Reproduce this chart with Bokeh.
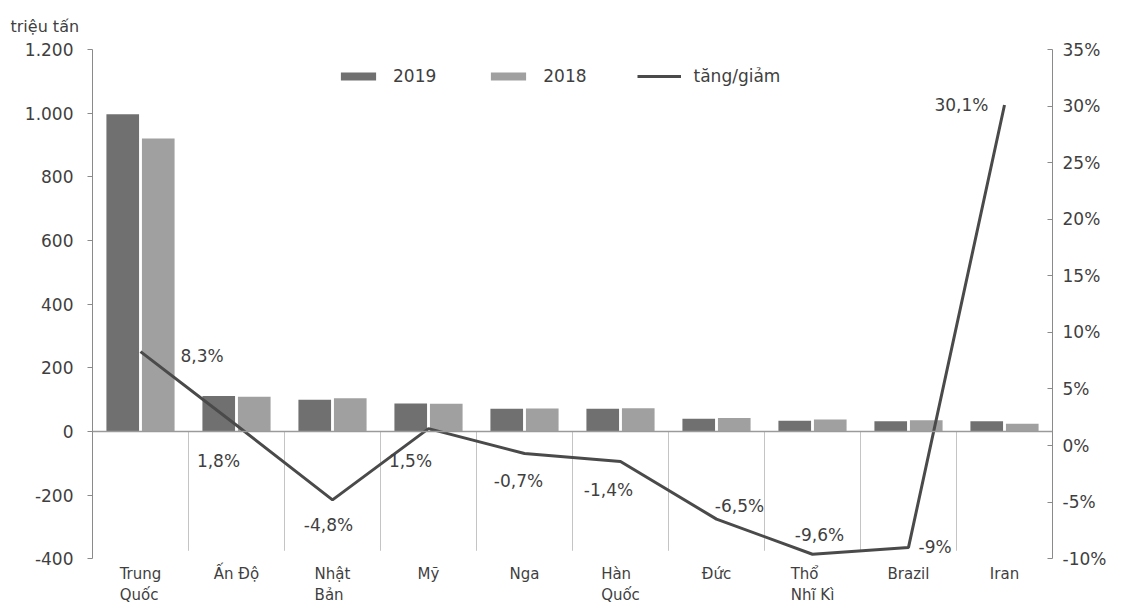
from bokeh.plotting import figure
from bokeh.models import (Range1d, LinearAxis, FixedTicker, Span, LabelSet,
                          ColumnDataSource, Legend, LegendItem)
from bokeh.core.properties import value
from bokeh.transform import dodge
from bokeh.embed import file_html
from bokeh.resources import INLINE

# ---- data ----
countries = ["Trung\nQuốc", "Ấn Độ", "Nhật\nBản", "Mỹ", "Nga", "Hàn\nQuốc",
             "Đức", "Thổ\nNhĩ Kì", "Brazil", "Iran"]
prod_2019 = [996.3, 111.2, 99.3, 87.9, 71.6, 71.4, 39.7, 33.7, 32.2, 31.9]
prod_2018 = [920.0, 109.3, 104.3, 86.6, 72.1, 72.5, 42.4, 37.3, 35.4, 24.5]
change_pct = [8.3, 1.8, -4.8, 1.5, -0.7, -1.4, -6.5, -9.6, -9.0, 30.1]
change_labels = ["8,3%", "1,8%", "-4,8%", "1,5%", "-0,7%", "-1,4%",
                 "-6,5%", "-9,6%", "-9%", "30,1%"]
left_ticks = [-400, -200, 0, 200, 400, 600, 800, 1000, 1200]
left_tick_labels = ["-400", "-200", "0", "200", "400", "600", "800", "1.000", "1.200"]
right_ticks = [-10, -5, 0, 5, 10, 15, 20, 25, 30, 35]
unit_label = "triệu tấn"

# label placement (style, px)
lab_dx = [40, -18, -4, -18, -6, -12, 23, 7, 10, -16]
lab_dy = [-4, -36, -25, -32, -27, -29, 13, 19, 0, 0]
lab_align = ["left", "center", "center", "center", "center", "center",
             "center", "center", "left", "right"]

FONT = "DejaVu Sans"
TXT = "#3f3f3f"
FS = "17px"

# layout: axis part of frame is 512 px tall, extra px below for category labels
W, H = 1109, 604
TOP, LEFT, RIGHT = 46, 92, 57
AXIS_PX = 512
EXTRA_PX = H - TOP - AXIS_PX
L_LO, L_HI = left_ticks[0], left_ticks[-1]
R_LO, R_HI = right_ticks[0], right_ticks[-1]
l_pad = (L_HI - L_LO) * EXTRA_PX / AXIS_PX
r_pad = (R_HI - R_LO) * EXTRA_PX / AXIS_PX

xs = [i + 0.5 for i in range(len(countries))]
src = ColumnDataSource(dict(x=xs, y19=prod_2019, y18=prod_2018, pct=change_pct,
                            lab=change_labels, dx=lab_dx, dy=lab_dy, al=lab_align,
                            cat=countries, base=[L_LO] * len(countries)))

p = figure(width=W, height=H, output_backend="svg", toolbar_location=None,
           x_range=Range1d(0, len(countries)), y_range=Range1d(L_LO - l_pad, L_HI),
           min_border_left=LEFT, min_border_right=RIGHT, min_border_top=TOP,
           min_border_bottom=0)
p.outline_line_color = None
p.xgrid.visible = False
p.ygrid.visible = False
p.xaxis.visible = False
p.background_fill_color = "white"
p.border_fill_color = "white"

p.title.text = unit_label
p.title.align = "left"
p.title.offset = -82
p.title.standoff = 28
p.title.text_font = FONT
p.title.text_font_size = "16px"
p.title.text_font_style = "normal"
p.title.text_color = TXT

p.extra_y_ranges = {"pct": Range1d(R_LO - r_pad, R_HI)}

# zero line and separators
p.add_layout(Span(location=0, dimension="width", line_color="#9a9a9a", line_width=1.5))
p.segment(x0=list(range(1, len(countries))), y0=0, x1=list(range(1, len(countries))),
          y1=-375, line_color="#c4c4c4", line_width=1)

b19 = p.vbar(x=dodge("x", -0.185, range=p.x_range), top="y19", bottom=0, width=0.34,
             source=src, fill_color="#707070", line_color=None)
b18 = p.vbar(x=dodge("x", 0.185, range=p.x_range), top="y18", bottom=0, width=0.34,
             source=src, fill_color="#a0a0a0", line_color=None)
ln = p.line(x="x", y="pct", source=src, y_range_name="pct", line_color="#4a4a4a",
            line_width=3)

labels = LabelSet(x="x", y="pct", text="lab", source=src, y_range_name="pct",
                  x_offset="dx", y_offset="dy", text_align="al", text_baseline="middle",
                  text_font=value(FONT), text_font_size=FS, text_color=TXT)
p.add_layout(labels)

# category labels below the axis part of the frame
cats = LabelSet(x="x", y="base", text="cat", source=src, y_offset=-6,
                text_align="center", text_baseline="top", text_line_height=1.2,
                text_font=value(FONT), text_font_size="15px", text_color=TXT)
p.add_layout(cats)

ya = p.yaxis[0]
ya.bounds = (L_LO, L_HI)
ya.ticker = FixedTicker(ticks=left_ticks)
ya.major_label_overrides = {t: l for t, l in zip(left_ticks, left_tick_labels)}
ya.axis_line_color = "#8a8a8a"
ya.major_tick_line_color = "#8a8a8a"
ya.major_tick_out = 5
ya.major_tick_in = 0
ya.minor_tick_line_color = None
ya.major_label_text_font = FONT
ya.major_label_text_font_size = FS
ya.major_label_text_color = TXT
ya.major_label_standoff = 14

ra = LinearAxis(y_range_name="pct", ticker=FixedTicker(ticks=right_ticks),
                bounds=(R_LO, R_HI))
ra.major_label_overrides = {t: f"{t}%" for t in right_ticks}
ra.axis_line_color = "#8a8a8a"
ra.major_tick_line_color = "#8a8a8a"
ra.major_tick_out = 0
ra.major_tick_in = 5
ra.minor_tick_line_color = None
ra.major_label_text_font = FONT
ra.major_label_text_font_size = FS
ra.major_label_text_color = TXT
ra.major_label_standoff = 10
p.add_layout(ra, "right")

legend = Legend(items=[LegendItem(label="2019", renderers=[b19]),
                       LegendItem(label="2018", renderers=[b18]),
                       LegendItem(label="tăng/giảm", renderers=[ln])],
                orientation="horizontal", location=(244, 518), padding=0, margin=0,
                spacing=50, glyph_width=44, glyph_height=10, label_standoff=13,
                border_line_color=None, background_fill_alpha=0,
                label_text_font=FONT, label_text_font_size="17px",
                label_text_color=TXT)
p.add_layout(legend)

open("out.html", "w").write(file_html(p, INLINE))
